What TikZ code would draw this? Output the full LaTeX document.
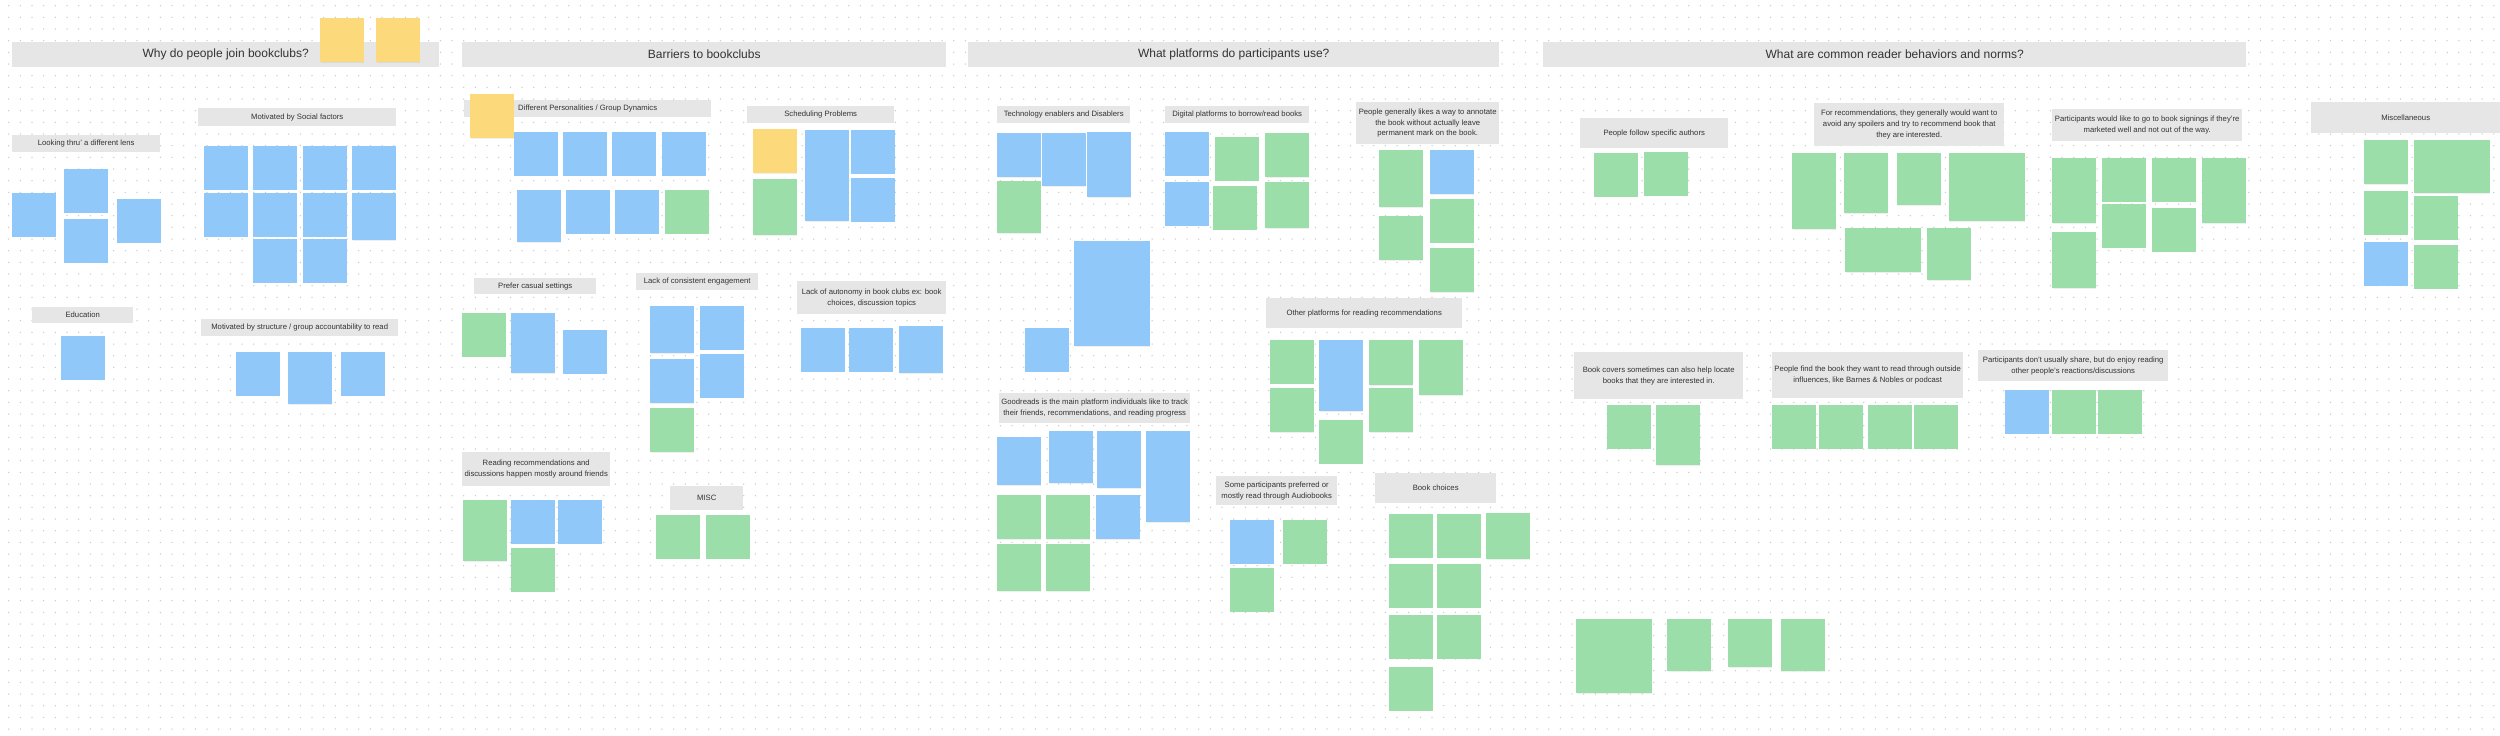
\documentclass[tikz,border=0pt]{standalone}
\usepackage{fontspec}
\setmainfont{Liberation Sans}
\usetikzlibrary{shadows}
\definecolor{noteblue}{HTML}{8FC8F9}
\definecolor{notegreen}{HTML}{9CDEA9}
\definecolor{noteyellow}{HTML}{FCD97A}
\definecolor{barfill}{HTML}{E6E6E6}
\definecolor{inkgray}{HTML}{333333}
\definecolor{dotgray}{HTML}{CACACA}
\tikzset{
  title bar/.style={rectangle, fill=barfill, anchor=north west, inner sep=0pt,
    font=\fontsize{12}{14}\selectfont, text=inkgray},
  group label/.style={rectangle, fill=barfill, anchor=north west, inner sep=0pt,
    align=center, font=\fontsize{7.7}{10.7}\selectfont, text=inkgray},
  sticky/.style={rectangle, anchor=north west, inner sep=0pt,
    minimum width=43.5pt, minimum height=43.5pt,
    drop shadow={opacity=0.12, shadow xshift=0.4pt, shadow yshift=-0.6pt}},
  blue note/.style={sticky, fill=noteblue},
  green note/.style={sticky, fill=notegreen},
  yellow note/.style={sticky, fill=noteyellow},
  wide/.style={minimum width=75.5pt},
  dot row/.style={dotgray, line width=1.5pt, line cap=round, dash pattern=on 0pt off 11.667pt}
}

\begin{document}
\begin{tikzpicture}[x=1pt, y=-1pt]
\useasboundingbox[fill=white] (0,0) rectangle (2500,736);
% dotted board
\foreach \r in {0,...,62}
  \draw[dot row] (8.7,5.7+\r*11.667) -- (2500,5.7+\r*11.667);

% ---- section bars
\node[title bar, minimum width=427pt, minimum height=25pt] (why) at (12,42) {Why do people join bookclubs?};
\node[title bar, minimum width=484pt, minimum height=25pt] (barriers) at (462,42) {Barriers to bookclubs};
\node[title bar, minimum width=531pt, minimum height=25pt] (platforms) at (968,42) {What platforms do participants use?};
\node[title bar, minimum width=703pt, minimum height=25pt] (norms) at (1543,42) {What are common reader behaviors and norms?};

% ---- why do people join
\node[yellow note, minimum height=44pt] (why1) at (320,18) {};
\node[yellow note, minimum height=44pt] (why2) at (376,18) {};

\node[group label, minimum width=148pt, minimum height=17pt] (lens) at (12,135) {Looking thru’ a different lens};
\node[blue note] (lens1) at (12,193) {};
\node[blue note] (lens2) at (64,169) {};
\node[blue note] (lens3) at (64,219) {};
\node[blue note] (lens4) at (117,199) {};

\node[group label, minimum width=198pt, minimum height=18pt] (social) at (198,108) {Motivated by Social factors};
\node[blue note] (soc1) at (204,146) {};
\node[blue note] (soc2) at (253,146) {};
\node[blue note] (soc3) at (303,146) {};
\node[blue note] (soc4) at (352,146) {};
\node[blue note] (soc5) at (204,193) {};
\node[blue note] (soc6) at (253,193) {};
\node[blue note] (soc7) at (303,193) {};
\node[blue note, minimum height=47pt] (soc8) at (352,193) {};
\node[blue note] (soc9) at (253,239) {};
\node[blue note] (soc10) at (303,239) {};

\node[group label, minimum width=101pt, minimum height=16pt] (education) at (32,307) {Education};
\node[blue note] (edu1) at (61,336) {};

\node[group label, minimum width=197pt, minimum height=17pt] (structure) at (201,319) {Motivated by structure / group accountability to read};
\node[blue note] (str1) at (236,352) {};
\node[blue note, minimum height=52pt] (str2) at (288,352) {};
\node[blue note] (str3) at (341,352) {};

% ---- barriers
\node[group label, minimum width=247pt, minimum height=17pt] (personalities) at (464,100) {Different Personalities / Group Dynamics};
\node[yellow note, minimum height=44pt] (pers0) at (470,94) {};
\node[blue note] (pers1) at (514,132) {};
\node[blue note] (pers2) at (563,132) {};
\node[blue note] (pers3) at (612,132) {};
\node[blue note] (pers4) at (662,132) {};
\node[blue note, minimum height=52pt] (pers5) at (517,190) {};
\node[blue note] (pers6) at (566,190) {};
\node[blue note] (pers7) at (615,190) {};
\node[green note] (pers8) at (665,190) {};

\node[group label, minimum width=147pt, minimum height=17pt] (scheduling) at (747,106) {Scheduling Problems};
\node[yellow note, minimum height=44pt] (sch1) at (753,129) {};
\node[green note, minimum height=56pt] (sch2) at (753,179) {};
\node[blue note, minimum height=91pt] (sch3) at (805,130) {};
\node[blue note] (sch4) at (851,130) {};
\node[blue note] (sch5) at (851,178) {};

\node[group label, minimum width=122pt, minimum height=16pt] (casual) at (474,278) {Prefer casual settings};
\node[green note] (cas1) at (462,313) {};
\node[blue note, minimum height=60pt] (cas2) at (511,313) {};
\node[blue note] (cas3) at (563,330) {};

\node[group label, minimum width=122pt, minimum height=17pt] (engagement) at (636,273) {Lack of consistent engagement};
\node[blue note, minimum height=47pt] (eng1) at (650,306) {};
\node[blue note] (eng2) at (700,306) {};
\node[blue note, minimum height=44pt] (eng3) at (650,359) {};
\node[blue note] (eng4) at (700,354) {};
\node[green note, minimum height=44pt] (eng5) at (650,408) {};

\node[group label, minimum width=149pt, minimum height=33pt] (autonomy) at (797,281) {Lack of autonomy in book clubs ex: book\\choices, discussion topics};
\node[blue note] (aut1) at (801,328) {};
\node[blue note] (aut2) at (849,328) {};
\node[blue note, minimum height=47pt] (aut3) at (899,326) {};

\node[group label, minimum width=148pt, minimum height=34pt] (friends) at (462,452) {Reading recommendations and\\discussions happen mostly around friends};
\node[green note, minimum height=61pt] (fr1) at (463,500) {};
\node[blue note] (fr2) at (511,500) {};
\node[blue note] (fr3) at (558,500) {};
\node[green note] (fr4) at (511,548) {};

\node[group label, minimum width=73pt, minimum height=24pt] (miscA) at (670,486) {MISC};
\node[green note] (msa1) at (656,515) {};
\node[green note] (msa2) at (706,515) {};

% ---- platforms
\node[group label, minimum width=133pt, minimum height=17pt] (tech) at (997,106) {Technology enablers and Disablers};
\node[blue note, minimum height=44pt] (tec1) at (997,133) {};
\node[blue note, minimum height=53pt] (tec2) at (1042,133) {};
\node[blue note, minimum height=65pt] (tec3) at (1087,132) {};
\node[green note, minimum height=52pt] (tec4) at (997,181) {};
\node[blue note, wide, minimum height=105pt] (tec5) at (1074,241) {};
\node[blue note] (tec6) at (1025,328) {};

\node[group label, minimum width=144pt, minimum height=17pt] (digital) at (1165,106) {Digital platforms to borrow/read books};
\node[blue note] (dig1) at (1165,132) {};
\node[blue note] (dig2) at (1165,182) {};
\node[green note] (dig3) at (1215,137) {};
\node[green note] (dig4) at (1213,186) {};
\node[green note, minimum height=44pt] (dig5) at (1265,133) {};
\node[green note, minimum height=46pt] (dig6) at (1265,182) {};

\node[group label, minimum width=143pt, minimum height=42pt] (annotate) at (1356,102) {People generally likes a way to annotate\\the book without actually leave\\permanent mark on the book.};
\node[green note, minimum height=57pt] (ann1) at (1379,150) {};
\node[blue note, minimum height=44pt] (ann2) at (1430,150) {};
\node[green note, minimum height=44pt] (ann3) at (1379,216) {};
\node[green note] (ann4) at (1430,199) {};
\node[green note, minimum height=44pt] (ann5) at (1430,248) {};

\node[group label, minimum width=196pt, minimum height=30pt] (otherrec) at (1266,298) {Other platforms for reading recommendations};
\node[green note] (oth1) at (1270,340) {};
\node[blue note, minimum height=71pt] (oth2) at (1319,340) {};
\node[green note, minimum height=45pt] (oth3) at (1369,340) {};
\node[green note, minimum height=55pt] (oth4) at (1419,340) {};
\node[green note, minimum height=44pt] (oth5) at (1270,388) {};
\node[green note] (oth6) at (1319,420) {};
\node[green note, minimum height=44pt] (oth7) at (1369,388) {};

\node[group label, minimum width=191pt, minimum height=30pt] (goodreads) at (999,393) {Goodreads is the main platform individuals like to track\\their friends, recommendations, and reading progress};
\node[blue note, minimum height=48pt] (gr1) at (997,437) {};
\node[blue note, minimum height=52pt] (gr2) at (1049,431) {};
\node[blue note, minimum height=57pt] (gr3) at (1097,431) {};
\node[blue note, minimum height=91pt] (gr4) at (1146,431) {};
\node[green note, minimum height=44pt] (gr5) at (997,495) {};
\node[green note, minimum height=44pt] (gr6) at (1046,495) {};
\node[blue note, minimum height=44pt] (gr7) at (1096,495) {};
\node[green note, minimum height=47pt] (gr8) at (997,544) {};
\node[green note, minimum height=47pt] (gr9) at (1046,544) {};

\node[group label, minimum width=121pt, minimum height=29pt] (audio) at (1216,476) {Some participants preferred or\\mostly read through Audiobooks};
\node[blue note] (aud1) at (1230,520) {};
\node[green note] (aud2) at (1230,568) {};
\node[green note] (aud3) at (1283,520) {};

\node[group label, minimum width=121pt, minimum height=30pt] (choices) at (1375,473) {Book choices};
\node[green note] (cho1) at (1389,514) {};
\node[green note] (cho2) at (1437,514) {};
\node[green note, minimum height=46pt] (cho3) at (1486,513) {};
\node[green note] (cho4) at (1389,564) {};
\node[green note] (cho5) at (1437,564) {};
\node[green note] (cho6) at (1389,615) {};
\node[green note] (cho7) at (1437,615) {};
\node[green note] (cho8) at (1389,667) {};

% ---- reader behaviors and norms
\node[group label, minimum width=148pt, minimum height=30pt] (authors) at (1580,118) {People follow specific authors};
\node[green note] (aut4) at (1594,153) {};
\node[green note] (aut5) at (1644,152) {};

\node[group label, minimum width=190pt, minimum height=43pt] (spoilers) at (1814,103) {For recommendations, they generally would want to\\avoid any spoilers and try to recommend book that\\they are interested.};
\node[green note, minimum height=76pt] (spo1) at (1792,153) {};
\node[green note, minimum height=60pt] (spo2) at (1844,153) {};
\node[green note, minimum height=52pt] (spo3) at (1897,153) {};
\node[green note, wide, minimum height=68pt] (spo4) at (1949,153) {};
\node[green note, wide, minimum height=44pt] (spo5) at (1845,228) {};
\node[green note, minimum height=52pt] (spo6) at (1927,228) {};

\node[group label, minimum width=190pt, minimum height=32pt] (signings) at (2052,109) {Participants would like to go to book signings if they’re\\marketed well and not out of the way.};
\node[green note, minimum height=65pt] (sig1) at (2052,158) {};
\node[green note, minimum height=56pt] (sig2) at (2052,232) {};
\node[green note] (sig3) at (2102,158) {};
\node[green note] (sig4) at (2102,204) {};
\node[green note] (sig5) at (2152,158) {};
\node[green note] (sig6) at (2152,208) {};
\node[green note, minimum height=65pt] (sig7) at (2202,158) {};

\node[group label, minimum width=189pt, minimum height=31pt] (miscB) at (2311,102) {Miscellaneous};
\node[green note, minimum height=44pt] (msb1) at (2364,140) {};
\node[green note, wide, minimum height=53pt] (msb2) at (2414,140) {};
\node[green note] (msb3) at (2364,191) {};
\node[blue note] (msb4) at (2364,242) {};
\node[green note] (msb5) at (2414,196) {};
\node[green note] (msb6) at (2414,245) {};

\node[group label, minimum width=169pt, minimum height=47pt] (covers) at (1574,352) {Book covers sometimes can also help locate\\books that they are interested in.};
\node[green note] (cov1) at (1607,405) {};
\node[green note, minimum height=60pt] (cov2) at (1656,405) {};

\node[group label, minimum width=191pt, minimum height=46pt] (outside) at (1772,352) {People find the book they want to read through outside\\influences, like Barnes \& Nobles or podcast};
\node[green note] (out1) at (1772,405) {};
\node[green note] (out2) at (1819,405) {};
\node[green note] (out3) at (1868,405) {};
\node[green note] (out4) at (1914,405) {};

\node[group label, minimum width=190pt, minimum height=31pt] (share) at (1978,350) {Participants don’t usually share, but do enjoy reading\\other people’s reactions/discussions};
\node[blue note] (sha1) at (2005,390) {};
\node[green note] (sha2) at (2052,390) {};
\node[green note] (sha3) at (2098,390) {};

\node[green note, wide, minimum height=74pt] (low1) at (1576,619) {};
\node[green note, minimum height=52pt] (low2) at (1667,619) {};
\node[green note, minimum height=48pt] (low3) at (1728,619) {};
\node[green note, minimum height=52pt] (low4) at (1781,619) {};
\end{tikzpicture}
\end{document}
